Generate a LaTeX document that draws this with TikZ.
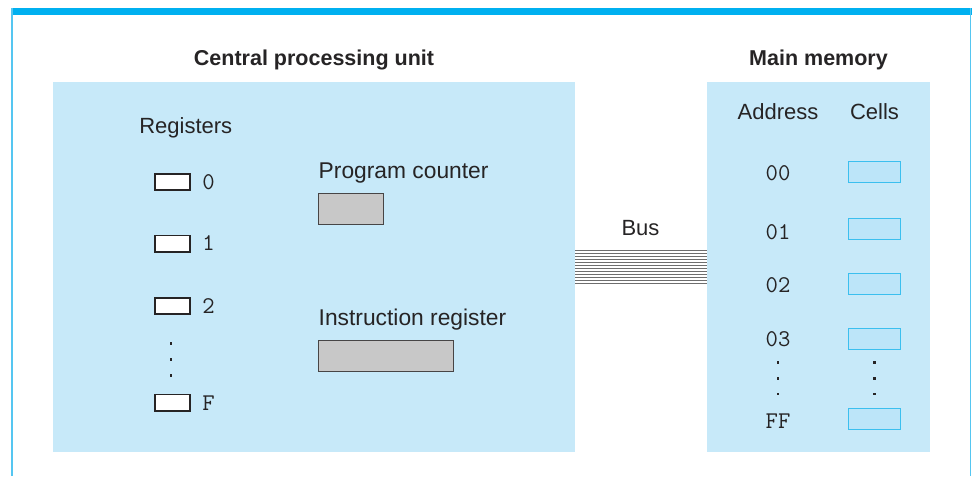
\documentclass[tikz,border=0pt]{standalone}
\usepackage{fontspec}
\setmainfont{Liberation Sans}
\definecolor{ink}{HTML}{262425}
\definecolor{bg}{HTML}{C7E9F9}
\definecolor{topbar}{HTML}{00B0F0}
\definecolor{sideline}{HTML}{55C6F1}
\definecolor{cellfill}{HTML}{BCE5F9}
\definecolor{celledge}{HTML}{3BBFEF}
\definecolor{greyfill}{HTML}{C8C8C8}
\definecolor{busline}{HTML}{6E6E6E}
\begin{document}
\begin{tikzpicture}[x=1pt,y=-1pt,
  txt/.style={font=\fontsize{22}{26}\selectfont, text=ink, inner sep=0pt, anchor=base},
  wtxt/.style={font=\fontsize{22.8}{26}\selectfont, text=ink, inner sep=0pt, anchor=base west},
  ttl/.style={font=\fontsize{21.5}{26}\selectfont\bfseries, text=ink, inner sep=0pt, anchor=base},
  mono/.style={font=\fontsize{24}{26}\selectfont\ttfamily, text=ink, inner sep=0pt, anchor=base},
  panel/.style={fill=bg, draw=none, inner sep=0pt, anchor=north west},
  regbox/.style={draw=ink, line width=1.6pt, fill=white, minimum width=35.4pt, minimum height=16.4pt, inner sep=0pt},
  greybox/.style={draw=ink!85, line width=1pt, fill=greyfill, inner sep=0pt},
  cellbox/.style={draw=celledge, line width=1.2pt, fill=cellfill, minimum width=51.8pt, minimum height=20.8pt, inner sep=0pt},
  dot/.style={fill=ink, minimum size=2.8pt, inner sep=0pt, draw=none}]
\useasboundingbox (0,0) rectangle (973,476);
% frame
\fill[topbar] (11,8.5) rectangle (971.5,15);
\fill[sideline] (11,8.5) rectangle (13,476);
\fill[sideline] (969.6,8.5) rectangle (971.3,476);
% panels
\node[panel, minimum width=522pt, minimum height=370pt] (cpu) at (53,82) {};
\node[panel, minimum width=223pt, minimum height=370pt] (mem) at (707,82) {};
% titles
\node[ttl] (cputitle) at (314,66) {Central processing unit};
\node[ttl] (memtitle) at (818.5,66) {Main memory};
% bus
\foreach \i in {0,...,11}{
  \coordinate (bl\i) at (575,250.5+3*\i);
  \draw[busline, line width=1.3pt] (bl\i) -- (bl\i -| mem.west);
}
\node[txt] (bus) at (640.5,235) {Bus};
% registers
\node[txt] (regs) at (185.8,133.3) {Registers};
\node[regbox] (r0) at (172.5,182) {};
\node[regbox] (r1) at (172.5,243.5) {};
\node[regbox] (r2) at (172.5,306) {};
\node[regbox] (rF) at (172.5,402.5) {};
\node[mono] (l0) at (208.5,189.5) {0};
\node[mono] (l1) at (208.5,250.7) {1};
\node[mono] (l2) at (208.5,313) {2};
\node[mono] (lF) at (208.5,410) {F};
\node[dot] (rd1) at (171,343.3) {};
\node[dot] (rd2) at (171,359.3) {};
\node[dot] (rd3) at (171,375.3) {};
% program counter and instruction register
\node[wtxt] (pct) at (318.5,178.5) {Program counter};
\node[greybox, minimum width=65pt, minimum height=31pt] (pc) at (351,209) {};
\node[wtxt] (irt) at (318.5,325) {Instruction register};
\node[greybox, minimum width=135pt, minimum height=31pt] (ir) at (386,356) {};
% memory
\node[txt] (addr) at (778,119) {Address};
\node[txt] (cells) at (874.5,119) {Cells};
\node[mono] (a0) at (778,180.7) {00};
\node[mono] (a1) at (778,239) {01};
\node[mono] (a2) at (778,292.5) {02};
\node[mono] (a3) at (778,346.7) {03};
\node[mono] (aF) at (778,428.3) {FF};
\node[cellbox] (c0) at (874.5,172) {};
\node[cellbox] (c1) at (874.5,229) {};
\node[cellbox] (c2) at (874.5,284) {};
\node[cellbox] (c3) at (874.5,339) {};
\node[cellbox] (cF) at (874.5,419) {};
\node[dot] (ad1) at (778,362.7) {};
\node[dot] (ad2) at (778,378.3) {};
\node[dot] (ad3) at (778,394) {};
\node[dot] (cd1) at (874.3,362.7) {};
\node[dot] (cd2) at (874.3,378.3) {};
\node[dot] (cd3) at (874.3,394) {};
\end{tikzpicture}
\end{document}
